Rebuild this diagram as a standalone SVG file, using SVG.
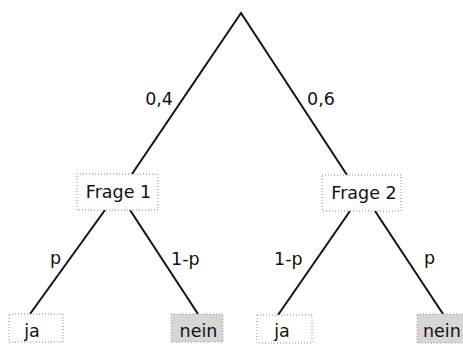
<svg xmlns="http://www.w3.org/2000/svg" width="463" height="344" viewBox="0 0 463 344">
<style>
.t{font-family:"DejaVu Sans","Liberation Sans",sans-serif;font-size:17.5px;fill:#111}
.e{stroke:#111;stroke-width:2;fill:none}
.box{fill:#fff;stroke:#888;stroke-width:1;stroke-dasharray:1 2}
.gbox{fill:#d6d6d6;stroke:#999;stroke-width:1;stroke-dasharray:1 2}
</style>
<rect width="463" height="344" fill="#fff"/>
<g id="connectors">
<path class="e" d="M132,174 L241,13 L347,175"/>
<path class="e" d="M105,210 L30,314"/>
<path class="e" d="M130,210 L198,314"/>
<path class="e" d="M350,211 L278,315"/>
<path class="e" d="M375,211 L443,314"/>
<text class="t" x="173" y="105" text-anchor="end">0,4</text>
<text class="t" x="307" y="105">0,6</text>
<text class="t" x="50" y="264">p</text>
<text class="t" x="171" y="265">1-p</text>
<text class="t" x="274" y="265">1-p</text>
<text class="t" x="424" y="264">p</text>
</g>
<g id="frage1">
<rect class="box" x="77" y="174" width="81" height="36"/>
<text class="t" x="118.5" y="198" text-anchor="middle">Frage 1</text>
</g>
<g id="frage2">
<rect class="box" x="322" y="175" width="79" height="36"/>
<text class="t" x="364" y="199" text-anchor="middle">Frage 2</text>
</g>
<g id="ja1">
<rect class="box" x="9" y="314" width="54" height="28"/>
<text class="t" x="32" y="337" text-anchor="middle">ja</text>
</g>
<g id="nein1">
<rect class="gbox" x="171" y="314" width="52" height="28"/>
<text class="t" x="198.5" y="337" text-anchor="middle">nein</text>
</g>
<g id="ja2">
<rect class="box" x="257" y="315" width="55" height="28"/>
<text class="t" x="282" y="337" text-anchor="middle">ja</text>
</g>
<g id="nein2">
<rect class="gbox" x="417" y="314" width="50" height="29"/>
<text class="t" x="423" y="337">nein</text>
</g>
</svg>
